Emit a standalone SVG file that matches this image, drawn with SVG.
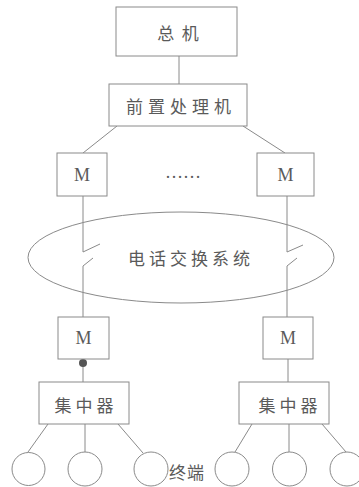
<svg xmlns="http://www.w3.org/2000/svg" width="359" height="487" viewBox="0 0 359 487">
<style>
.box{fill:#fff;stroke:#8a8a8a;stroke-width:1}
.ln{fill:none;stroke:#8a8a8a;stroke-width:1}
.cn{font-family:"Noto Sans CJK SC","Liberation Sans",sans-serif;font-size:17px;fill:#5a5a5a;text-anchor:middle;dominant-baseline:central}
.m{font-family:"Liberation Serif",serif;font-size:18px;fill:#5a5a5a;text-anchor:middle;dominant-baseline:central}
</style>
<rect width="359" height="487" fill="#fff"/>
<g id="connectors">
<line class="ln" x1="179" y1="56" x2="179" y2="84"/>
<line class="ln" x1="117" y1="126" x2="83" y2="153"/>
<line class="ln" x1="243" y1="126" x2="285" y2="153"/>
<polyline class="ln" points="83,196 83,252 100,244"/>
<polyline class="ln" points="93,258 83,266 83,317"/>
<polyline class="ln" points="287,196 287,252 303,245"/>
<polyline class="ln" points="297,258 287,266 287,317"/>
<line class="ln" x1="83" y1="359" x2="83" y2="382"/>
<line class="ln" x1="288" y1="359" x2="288" y2="382"/>
<line class="ln" x1="48" y1="424" x2="28" y2="452"/>
<line class="ln" x1="85" y1="424" x2="85" y2="452"/>
<line class="ln" x1="118" y1="424" x2="143" y2="453"/>
<line class="ln" x1="252" y1="424" x2="235" y2="452"/>
<line class="ln" x1="289" y1="424" x2="289" y2="452"/>
<line class="ln" x1="322" y1="424" x2="346" y2="452"/>
<circle cx="83" cy="363" r="4" fill="#555"/>
</g>
<g id="host"><rect class="box" x="116" y="7" width="121" height="49"/><text class="cn" x="178" y="32" xml:space="preserve">总  机</text></g>
<g id="frontend"><rect class="box" x="109" y="84" width="138" height="42"/><text class="cn" x="181" y="105" letter-spacing="5">前置处理机</text></g>
<g id="m1"><rect class="box" x="57" y="153" width="50" height="43"/><text class="m" x="82" y="175">M</text></g>
<g id="m2"><rect class="box" x="257" y="153" width="57" height="43"/><text class="m" x="285.5" y="175">M</text></g>
<g id="dots"><text class="m" x="183" y="172" font-size="16">……</text></g>
<g id="switch"><ellipse cx="181" cy="257.5" rx="153" ry="45.5" fill="none" stroke="#8a8a8a" stroke-width="1"/><text class="cn" x="191" y="257" letter-spacing="4">电话交换系统</text></g>
<g id="m3"><rect class="box" x="58" y="317" width="51" height="42"/><text class="m" x="83.5" y="338">M</text></g>
<g id="m4"><rect class="box" x="263" y="317" width="50" height="42"/><text class="m" x="288" y="338">M</text></g>
<g id="conc1"><rect class="box" x="39" y="382" width="90" height="42"/><text class="cn" x="86" y="404" letter-spacing="4">集中器</text></g>
<g id="conc2"><rect class="box" x="239" y="382" width="90" height="42"/><text class="cn" x="290" y="404" letter-spacing="4">集中器</text></g>
<g id="t1"><circle class="ln" cx="28.5" cy="469" r="16.5"/></g>
<g id="t2"><circle class="ln" cx="85" cy="469" r="17"/></g>
<g id="t3"><circle class="ln" cx="151" cy="469" r="17"/></g>
<g id="t4"><circle class="ln" cx="232" cy="469" r="17"/></g>
<g id="t5"><circle class="ln" cx="289.5" cy="469" r="17"/></g>
<g id="t6"><circle class="ln" cx="347" cy="469" r="17"/></g>
<g id="label"><text class="cn" x="187" y="471" letter-spacing="1">终端</text></g>
</svg>
